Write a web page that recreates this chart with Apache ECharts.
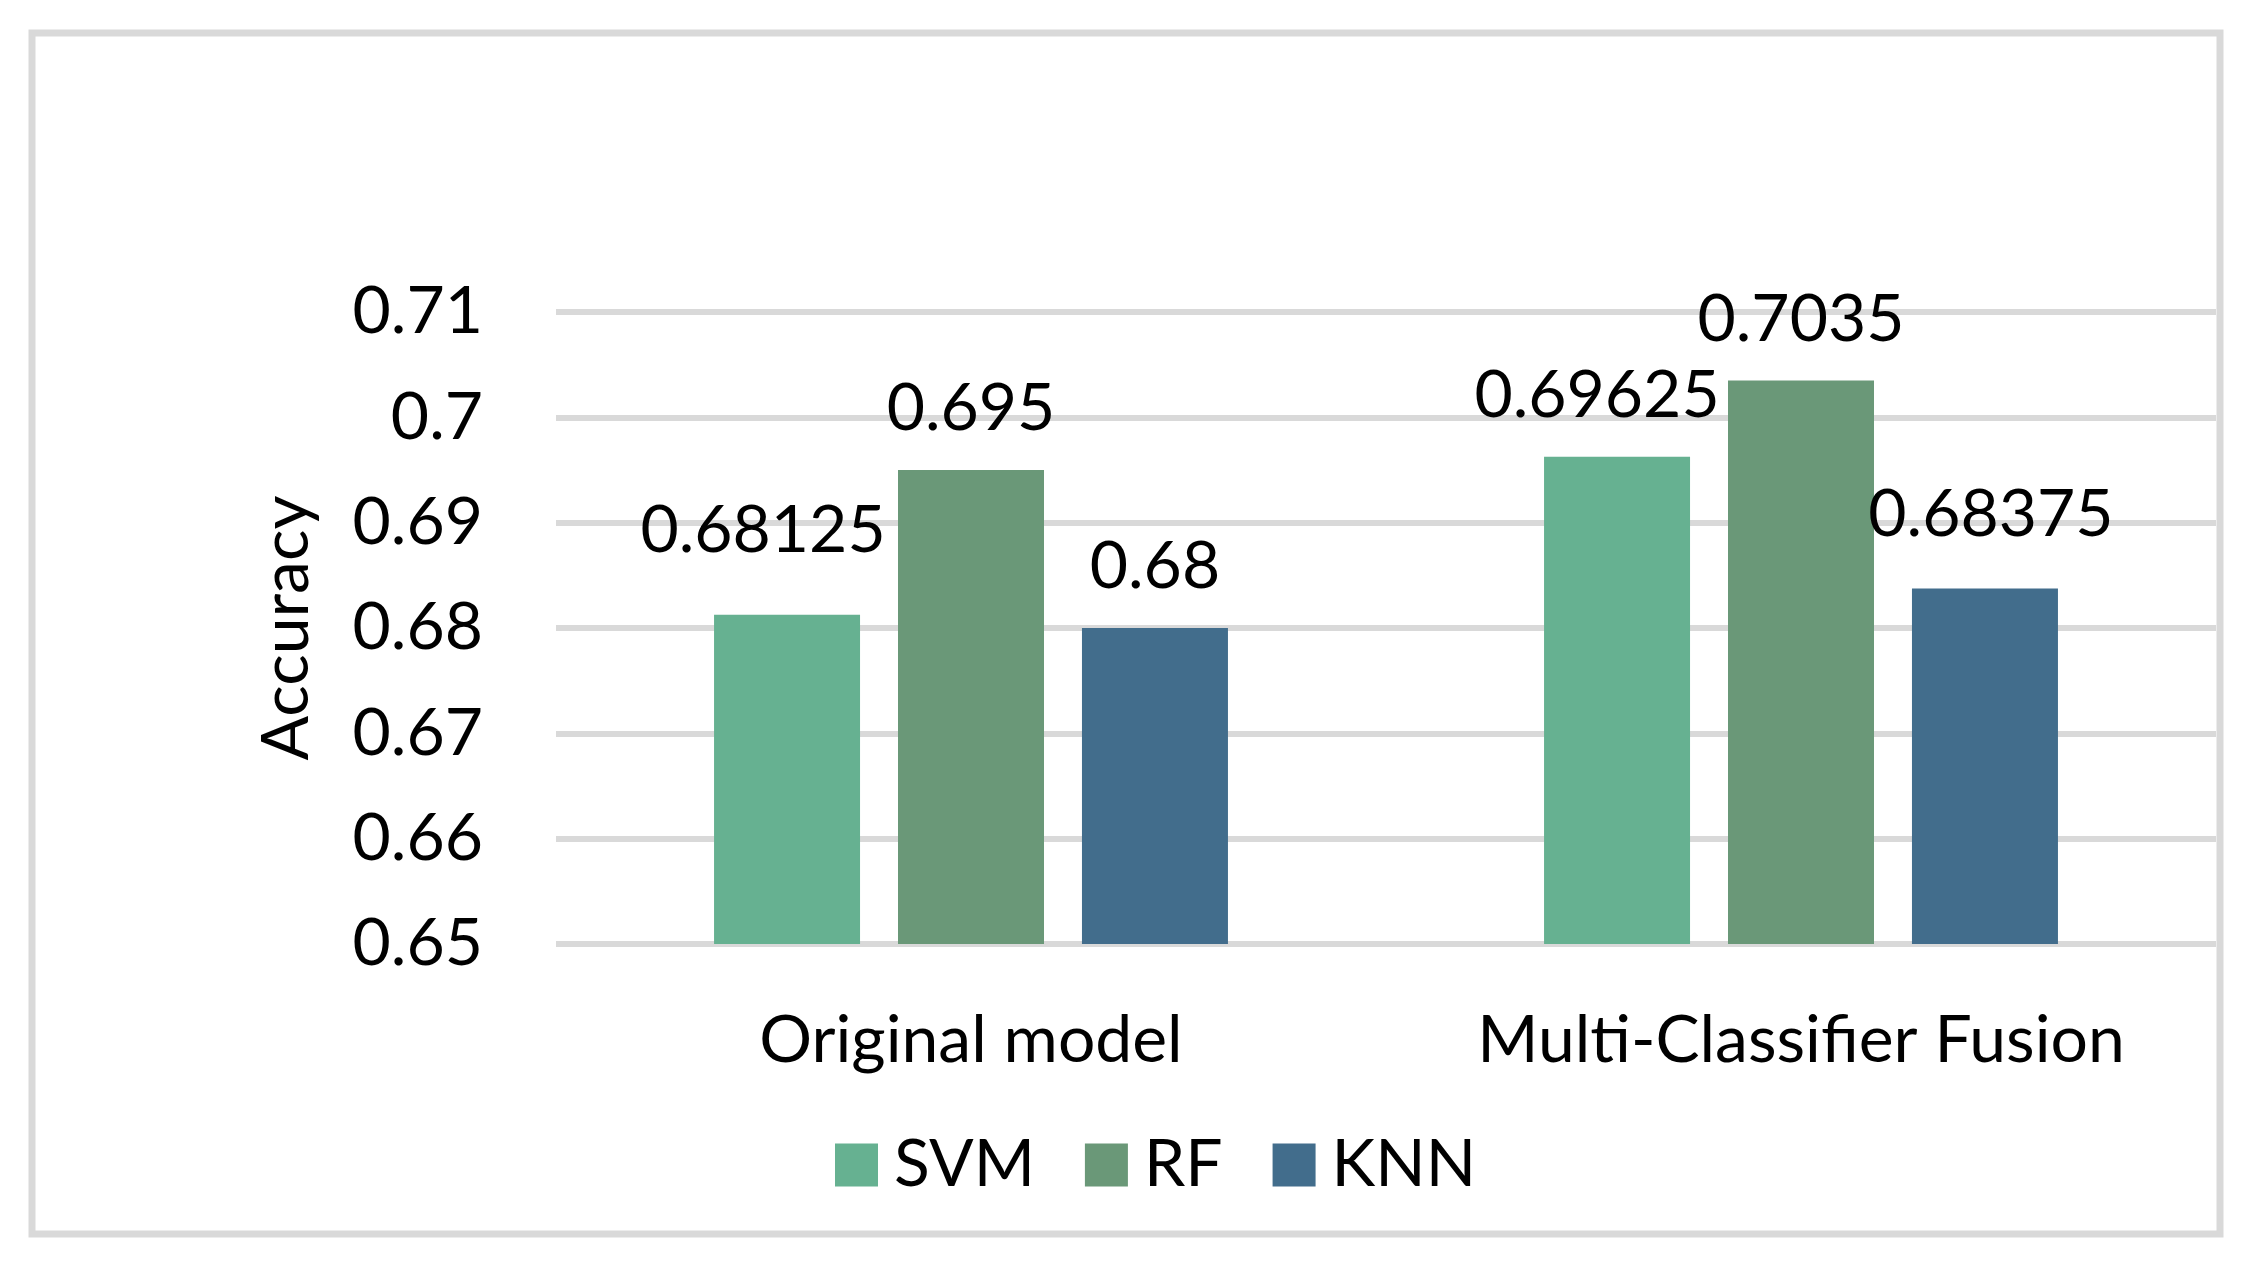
<!DOCTYPE html>
<html>
<head>
<meta charset="utf-8">
<script src="https://cdn.jsdelivr.net/npm/echarts@6/dist/echarts.min.js"></script>
<style>
html,body{margin:0;padding:0;background:#fff;}
#chart{width:2259px;height:1263px;}
</style>
</head>
<body>
<div id="chart"></div>
<script>
const categories = ['Original model', 'Multi-Classifier Fusion'];
const seriesNames = ['SVM', 'RF', 'KNN'];
const svmValues = [0.68125, 0.69625];
const rfValues = [0.695, 0.7035];
const knnValues = [0.68, 0.68375];
const yTicks = { min: 0.65, max: 0.71, interval: 0.01 };

const colors = ['#66B191', '#6A9878', '#426D8C'];
// manual label nudges (as in the original figure)
const labelOffsets = [
  [[-24, -23], [-20, 0]],
  [[0, 0], [0, 0]],
  [[0, 0], [6, -13]]
];
const FONT = 'Lato';
const FS = 66;

const values = [svmValues, rfValues, knnValues];
const series = seriesNames.map((name, si) => ({
  name: name,
  type: 'bar',
  barWidth: 146,
  barGap: '26%',
  itemStyle: { color: colors[si] },
  data: values[si].map((v, ci) => ({
    value: v,
    label: { offset: labelOffsets[si][ci] }
  })),
  label: {
    show: true,
    position: 'top',
    distance: 28,
    color: '#000',
    fontFamily: FONT,
    fontSize: FS,
    formatter: p => String(p.value)
  }
}));

const chart = echarts.init(document.getElementById('chart'), null, { renderer: 'canvas' });
chart.setOption({
  backgroundColor: '#fff',
  animation: false,
  graphic: [{
    type: 'rect',
    shape: { x: 32, y: 33, width: 2188, height: 1201 },
    style: { fill: 'none', stroke: '#d9d9d9', lineWidth: 7 },
    z: -10
  }],
  grid: { left: 556, right: 43, top: 312, height: 632 },
  legend: {
    data: seriesNames,
    left: 830,
    top: 1127,
    itemWidth: 43,
    itemHeight: 43,
    itemGap: 50,
    icon: 'rect',
    textStyle: { fontFamily: FONT, fontSize: FS, color: '#000', padding: [0, 0, 0, 11] }
  },
  xAxis: {
    type: 'category',
    data: categories,
    axisLine: { show: false },
    axisTick: { show: false },
    axisLabel: { fontFamily: FONT, fontSize: FS, color: '#000', margin: 64, interval: 0, hideOverlap: false }
  },
  yAxis: {
    type: 'value',
    min: yTicks.min,
    max: yTicks.max,
    interval: yTicks.interval,
    name: 'Accuracy',
    nameLocation: 'middle',
    nameRotate: 90,
    nameGap: 236,
    nameTextStyle: { fontFamily: FONT, fontSize: FS, color: '#000' },
    axisLine: { show: false },
    axisTick: { show: false },
    axisLabel: {
      fontFamily: FONT, fontSize: FS, color: '#000', margin: 73,
      formatter: v => String(+v.toFixed(2))
    },
    splitLine: { show: true, lineStyle: { color: '#d9d9d9', width: 6 } }
  },
  series: series
});
</script>
</body>
</html>
